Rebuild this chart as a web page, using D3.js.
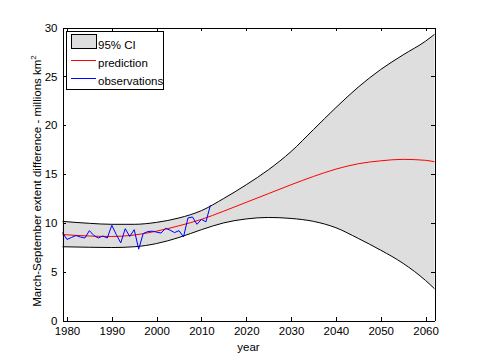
<!DOCTYPE html>
<html><head><meta charset="utf-8">
<script src="https://cdn.jsdelivr.net/npm/d3@7"></script>
<style>body{margin:0;background:#fff}svg{display:block}text{font-family:"Liberation Sans",Arial,Helvetica,sans-serif;fill:#000}</style>
</head><body><svg id="c" width="480" height="360"></svg>
<script>
// Observations (1979-2012)
const obsYears = d3.range(1979, 2013);
const obsValues = [9.0, 8.3, 8.5, 8.7, 8.55, 8.45, 9.2, 8.7, 8.45, 8.65, 8.45, 9.75, 8.8, 7.95, 9.4, 8.6, 9.3, 7.3, 8.9, 9.1, 9.15, 9.05, 8.95, 9.45, 9.25, 9.0, 9.2, 8.55, 10.5, 10.6, 9.85, 10.35, 10.1, 11.8];
// Model prediction and 95% CI
const predYears = [1979, 1985, 1990, 1995, 2000, 2005, 2010, 2015, 2020, 2025, 2030, 2035, 2040, 2045, 2050, 2055, 2060, 2062];
const predValues = [8.8, 8.65, 8.6, 8.75, 9.15, 9.7, 10.35, 11.2, 12.1, 13.0, 13.9, 14.75, 15.5, 16.05, 16.35, 16.5, 16.4, 16.25];
const ciUpper = [10.15, 9.95, 9.85, 9.85, 10.05, 10.5, 11.25, 12.5, 13.9, 15.45, 17.3, 19.55, 21.8, 23.9, 25.7, 27.2, 28.6, 29.3];
const ciLower = [7.55, 7.5, 7.47, 7.55, 7.88, 8.5, 9.3, 10.0, 10.4, 10.55, 10.45, 10.15, 9.5, 8.4, 7.2, 5.85, 4.1, 3.25];
const xTicks = [1980, 1990, 2000, 2010, 2020, 2030, 2040, 2050, 2060];
const yTicks = [0, 5, 10, 15, 20, 25, 30];
const legendLabels = ["95% CI", "prediction", "observations"];

const svg = d3.select("#c");
const L = 62.5, R = 434.5, T = 27.5, B = 320.5;
const x = d3.scaleLinear().domain([1979, 2062]).range([L, R]);
const y = d3.scaleLinear().domain([0, 30]).range([B, T]);
const FS = "11.5px";

const pred = predYears.map((yr, i) => ({yr, p: predValues[i], u: ciUpper[i], l: ciLower[i]}));
const curve = d3.curveMonotoneX;

svg.append("path").datum(pred)
  .attr("d", d3.area().x(d => x(d.yr)).y0(d => y(d.l)).y1(d => y(d.u)).curve(curve))
  .attr("fill", "#dedede").attr("stroke", "none");
svg.append("path").datum(pred)
  .attr("d", d3.line().x(d => x(d.yr)).y(d => y(d.u)).curve(curve))
  .attr("fill", "none").attr("stroke", "#000").attr("stroke-width", 1);
svg.append("path").datum(pred)
  .attr("d", d3.line().x(d => x(d.yr)).y(d => y(d.l)).curve(curve))
  .attr("fill", "none").attr("stroke", "#000").attr("stroke-width", 1);
svg.append("path").datum(pred)
  .attr("d", d3.line().x(d => x(d.yr)).y(d => y(d.p)).curve(curve))
  .attr("fill", "none").attr("stroke", "#ff0000").attr("stroke-width", 1);
svg.append("path").datum(obsYears.map((yr, i) => ({yr, v: obsValues[i]})))
  .attr("d", d3.line().x(d => x(d.yr)).y(d => y(d.v)))
  .attr("fill", "none").attr("stroke", "#0000ff").attr("stroke-width", 1);

// axes (box with inward ticks)
const tk = 3.7;
function style(g, labels) {
  g.selectAll("path.domain").attr("stroke", "#000").attr("shape-rendering", "crispEdges");
  g.selectAll(".tick line").attr("stroke", "#000").attr("shape-rendering", "crispEdges");
  g.selectAll("text").attr("font-size", FS).style("font-family", '"Liberation Sans",Arial,sans-serif').attr("fill", "#000");
  if (!labels) g.selectAll("text").remove();
}
svg.append("g").attr("transform", `translate(0,${B})`)
  .call(d3.axisBottom(x).tickValues(xTicks).tickFormat(d3.format("d")).tickSizeInner(-tk).tickSizeOuter(0).tickPadding(6))
  .call(g => style(g, true));
svg.append("g").attr("transform", `translate(0,${T})`)
  .call(d3.axisTop(x).tickValues(xTicks).tickSizeInner(-tk).tickSizeOuter(0))
  .call(g => style(g, false));
svg.append("g").attr("transform", `translate(${L},0)`)
  .call(d3.axisLeft(y).tickValues(yTicks).tickFormat(d3.format("d")).tickSizeInner(-tk).tickSizeOuter(0).tickPadding(5))
  .call(g => style(g, true));
svg.append("g").attr("transform", `translate(${R},0)`)
  .call(d3.axisRight(y).tickValues(yTicks).tickSizeInner(-tk).tickSizeOuter(0))
  .call(g => style(g, false));

// axis labels
svg.append("text").attr("x", (L + R) / 2).attr("y", 350.5).attr("text-anchor", "middle")
  .attr("font-size", FS).text("year");
const yl = svg.append("text").attr("transform", "translate(40.5,181) rotate(-90)")
  .attr("text-anchor", "middle").attr("font-size", FS);
yl.append("tspan").text("March-September extent difference - millions km");
yl.append("tspan").attr("font-size", "8px").attr("dy", "-5").text("2");

// legend
const lg = svg.append("g");
lg.append("rect").attr("x", 66.5).attr("y", 31.5).attr("width", 97).attr("height", 58)
  .attr("fill", "#fff").attr("stroke", "#000").attr("shape-rendering", "crispEdges");
lg.append("rect").attr("x", 71.5).attr("y", 34.5).attr("width", 25).attr("height", 14)
  .attr("fill", "#dedede").attr("stroke", "#000").attr("shape-rendering", "crispEdges");
const legColors = [null, "#ff0000", "#0000ff"];
const lineY = [null, 60.5, 78.5];
const baseY = [48.5, 66.5, 85];
legendLabels.forEach((lab, i) => {
  if (legColors[i]) lg.append("line").attr("x1", 71).attr("x2", 96).attr("y1", lineY[i]).attr("y2", lineY[i])
    .attr("stroke", legColors[i]).attr("stroke-width", 1);
  lg.append("text").attr("x", 98).attr("y", baseY[i]).attr("font-size", FS).text(lab);
});
</script></body></html>
